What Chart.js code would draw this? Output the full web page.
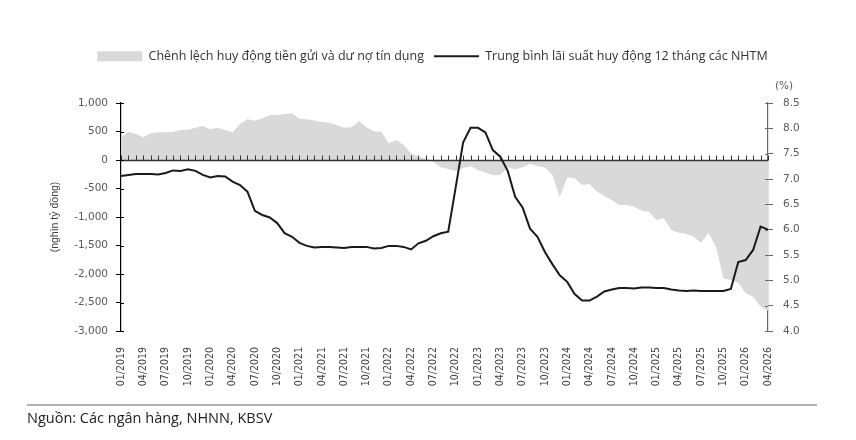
<!DOCTYPE html>
<html>
<head>
<meta charset="utf-8">
<script src="https://cdn.jsdelivr.net/npm/chart.js@4"></script>
<style>
  html, body { margin: 0; padding: 0; background: #fff; }
  #wrap { position: relative; width: 856px; height: 440px; }
  #note {
    position: absolute; left: 27px; top: 404px; width: 790px;
    border-top: 2px solid #b0b0b0; padding-top: 2px;
    font-family: "Open Sans", sans-serif; font-size: 14.5px; color: #222;
  }
</style>
</head>
<body>
<div id="wrap">
  <canvas id="chart" width="856" height="440"></canvas>
  <div id="note">Nguồn: Các ngân hàng, NHNN, KBSV</div>
</div>
<script>
// ---------- DATA ----------
const months = [];
for (let y = 2019; y <= 2026; y++) {
  for (let m = 1; m <= 12; m++) {
    if (y === 2026 && m > 4) break;
    months.push(String(m).padStart(2, "0") + "/" + y);
  }
}

// chenh lech huy dong tien gui va du no tin dung (nghin ty dong)
const gapValues = [
  391, 497, 456, 398, 468, 485, 485, 497, 526, 529, 567, 596,
  538, 567, 526, 485, 632, 713, 690, 731, 784, 789, 807, 819,
  725, 713, 695, 667, 655, 614, 567, 573, 684, 573, 503, 497,
  292, 351, 263, 117, 58, 20, -29, -129, -158, -193, -146, -105,
  -175, -222, -269, -263, -129, -164, -129, -70, -105, -130, -260, -650,
  -304, -322, -439, -421, -556, -632, -702, -789, -789, -819, -889, -907,
  -1053, -1023, -1228, -1275, -1298, -1345, -1450, -1287, -1520, -2076, -2105, -2152,
  -2339, -2398, -2573, -2643
];

// trung binh lai suat huy dong 12 thang (%)
const rateValues = [
  7.06, 7.08, 7.10, 7.10, 7.10, 7.09, 7.12, 7.17, 7.16, 7.19, 7.16, 7.08,
  7.03, 7.06, 7.05, 6.95, 6.88, 6.75, 6.37, 6.29, 6.24, 6.13, 5.93, 5.86,
  5.74, 5.68, 5.65, 5.66, 5.66, 5.65, 5.64, 5.66, 5.66, 5.66, 5.63, 5.64,
  5.68, 5.68, 5.66, 5.61, 5.73, 5.78, 5.87, 5.93, 5.96, 6.83, 7.72, 8.01,
  8.01, 7.92, 7.57, 7.44, 7.16, 6.65, 6.44, 6.02, 5.86, 5.56, 5.32, 5.10,
  4.97, 4.73, 4.60, 4.60, 4.68, 4.78, 4.82, 4.85, 4.85, 4.84, 4.86, 4.86,
  4.85, 4.85, 4.82, 4.80, 4.79, 4.80, 4.79, 4.79, 4.79, 4.79, 4.83, 5.36,
  5.40, 5.60, 6.06, 6.00
];

const gapTicks = [-3000, -2500, -2000, -1500, -1000, -500, 0, 500, 1000];
const rateTicks = [4.0, 4.5, 5.0, 5.5, 6.0, 6.5, 7.0, 7.5, 8.0, 8.5];

// ---------- STYLE ----------
const tickFont = { family: '"DejaVu Sans", sans-serif', size: 10.5 };
const tickColor = "#595959";

// zero line with monthly ticks + "(%)" label
const extras = {
  id: "extras",
  afterDatasetDraw(chart, args) {
    if (args.index !== 1) return;
    const { ctx, chartArea, scales } = chart;
    const y0 = Math.round(scales.y.getPixelForValue(0)) + 0.5;
    ctx.save();
    ctx.strokeStyle = "#333";
    ctx.lineWidth = 1.5;
    ctx.beginPath();
    ctx.moveTo(chartArea.left, y0);
    ctx.lineTo(chartArea.right, y0);
    ctx.stroke();
    ctx.lineWidth = 1;
    ctx.beginPath();
    months.forEach((m, i) => {
      const x = Math.round(scales.x.getPixelForValue(i)) + 0.5;
      ctx.moveTo(x, y0);
      ctx.lineTo(x, y0 - 5);
    });
    ctx.stroke();
    ctx.restore();
  },
  afterDraw(chart) {
    const { ctx, scales } = chart;
    ctx.save();
    // inner half of the axis tick marks
    ctx.lineWidth = 1;
    ctx.strokeStyle = "#000";
    ctx.beginPath();
    gapTicks.forEach(v => {
      const y = Math.round(scales.y.getPixelForValue(v)) + 0.5;
      ctx.moveTo(scales.y.right, y);
      ctx.lineTo(scales.y.right + 3, y);
    });
    ctx.stroke();
    ctx.strokeStyle = "#666";
    ctx.beginPath();
    rateTicks.forEach(v => {
      const y = Math.round(scales.y1.getPixelForValue(v)) + 0.5;
      ctx.moveTo(scales.y1.left, y);
      ctx.lineTo(scales.y1.left - 3, y);
    });
    ctx.stroke();
    ctx.font = '10.5px "DejaVu Sans"';
    ctx.fillStyle = tickColor;
    ctx.textAlign = "center";
    ctx.textBaseline = "middle";
    ctx.fillText("(%)", scales.y1.left + 16, scales.y1.top - 17);
    ctx.restore();
  }
};

// ---------- CHART ----------
new Chart(document.getElementById("chart"), {
  type: "line",
  data: {
    labels: months,
    datasets: [
      {
        label: "Trung bình lãi suất huy động 12 tháng các NHTM",
        data: rateValues,
        yAxisID: "y1",
        borderColor: "#1a1a1a",
        borderWidth: 2,
        pointRadius: 0,
        pointStyle: "line",
        tension: 0
      },
      {
        label: "Chênh lệch huy động tiền gửi và dư nợ tín dụng",
        data: gapValues,
        yAxisID: "y",
        backgroundColor: "#d9d9d9",
        borderColor: "#d9d9d9",
        borderWidth: 0,
        pointRadius: 0,
        pointStyle: "rect",
        fill: "origin",
        tension: 0
      }
    ]
  },
  options: {
    responsive: false,
    animation: false,
    layout: { padding: { top: 40, left: 45, right: 36, bottom: 54 } },
    plugins: {
      legend: {
        weight: 3000,
        labels: {
          usePointStyle: true,
          pointStyleWidth: 45,
          boxHeight: 10,
          padding: 10,
          color: "#333",
          font: { family: '"Open Sans", sans-serif', size: 12.5 },
          sort: (a, b) => b.datasetIndex - a.datasetIndex
        }
      },
      title: {
        display: true,
        text: "",
        font: { size: 10, lineHeight: 1 },
        padding: { top: 0, bottom: 20.5 }
      },
      tooltip: { enabled: false }
    },
    scales: {
      x: {
        offset: false,
        grid: { display: false },
        border: { display: false },
        ticks: {
          autoSkip: false,
          maxRotation: 90,
          minRotation: 90,
          padding: 8,
          color: "#404040",
          font: { family: '"DejaVu Sans Condensed", "DejaVu Sans", sans-serif', size: 10.5 },
          callback: (v, i) => (i % 3 === 0 ? months[i] : "")
        },
        afterFit: s => { s.height = 55; }
      },
      y: {
        position: "left",
        min: -3000,
        max: 1000,
        afterBuildTicks: s => { s.ticks = gapTicks.map(v => ({ value: v })); },
        ticks: {
          padding: 8,
          color: tickColor,
          font: tickFont,
          callback: v => v.toLocaleString("en-US")
        },
        grid: { drawOnChartArea: false, tickLength: 5, color: "#000" },
        border: { color: "#000", width: 1.2 },
        title: {
          display: true,
          text: "(nghìn tỷ đồng)",
          color: "#404040",
          font: { family: '"Liberation Sans", sans-serif', size: 10.5 },
          padding: { top: 4, bottom: 0 }
        },
        afterFit: s => { s.width = 76; }
      },
      y1: {
        position: "right",
        min: 4,
        max: 8.5,
        afterBuildTicks: s => { s.ticks = rateTicks.map(v => ({ value: v })); },
        ticks: {
          padding: 10,
          color: tickColor,
          font: tickFont,
          callback: v => v.toFixed(1)
        },
        grid: { drawOnChartArea: false, tickLength: 5, color: "#666" },
        border: { color: "#666", width: 1.2 },
        afterFit: s => { s.width = 52; }
      }
    }
  },
  plugins: [extras]
});
</script>
</body>
</html>
